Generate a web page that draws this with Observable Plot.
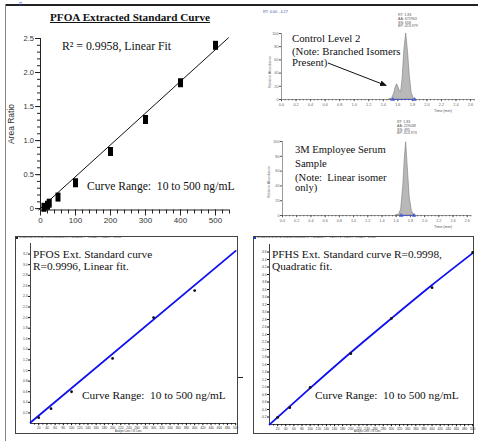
<!DOCTYPE html>
<html><head><meta charset="utf-8">
<script src="https://cdn.jsdelivr.net/npm/d3@7"></script>
<script src="https://cdn.jsdelivr.net/npm/@observablehq/plot@0.6"></script>
<style>
body{margin:0;background:#fff;}
#root{position:relative;width:478px;height:441px;overflow:hidden;background:#fff;}
.t{position:absolute;white-space:pre;font-family:"Liberation Serif","Times New Roman",serif;color:#111;line-height:1;}
.s{position:absolute;white-space:pre;font-family:"Liberation Sans",Arial,sans-serif;line-height:1;}
#root svg{position:absolute;overflow:visible;}
</style></head><body><div id="root"></div>
<script>
// ---------- data ----------
// PFOA extracted standard curve
const pfoaConc  = [10, 20, 25, 50, 100, 200, 300, 400, 500];
const pfoaRatio = [0.02, 0.05, 0.08, 0.17, 0.38, 0.84, 1.31, 1.85, 2.40];
const pfoaFitConc  = [-5, 537];
const pfoaFitRatio = [-0.02, 2.51];
const pfoaYTicks = [0, 0.5, 1.0, 1.5, 2.0, 2.5];
const pfoaXTicks = [0, 100, 200, 300, 400, 500];

// Chromatogram 1: Control Level 2 (branched + linear)
const chrom1Time = [1.48, 1.52, 1.55, 1.57, 1.59, 1.61, 1.63, 1.645, 1.665, 1.69, 1.715, 1.74, 1.765, 1.79, 1.82, 1.85];
const chrom1Abund = [0, 1, 9, 18, 23, 18, 12, 11, 30, 75, 100, 72, 35, 10, 1, 0];
const chrom1Marks = [1.53, 1.83];
// Chromatogram 2: 3M employee serum (linear only)
const chrom2Time = [1.60, 1.64, 1.67, 1.70, 1.72, 1.74, 1.765, 1.79, 1.82, 1.85, 1.88];
const chrom2Abund = [0, 1, 8, 40, 75, 99, 62, 25, 6, 1, 0];
const chrom2Marks = [1.67, 1.85];
const chromYTicks = [0, 20, 40, 60, 80, 100];
const chromXTicks = [0, 0.2, 0.4, 0.6, 0.8, 1.0, 1.2, 1.4, 1.6, 1.8, 2.0, 2.2, 2.4, 2.6];

// PFOS ext. standard curve (linear)
const pfosConc  = [20, 50, 100, 200, 300, 400];
const pfosRatio = [0.11, 0.28, 0.60, 1.23, 2.00, 2.51];
const pfosFitConc  = [0, 500];
const pfosFitRatio = [0.02, 3.26];
// PFHS ext. standard curve (quadratic)
const pfhsConc  = [20, 50, 100, 200, 300, 400, 500];
const pfhsRatio = [0.19, 0.45, 0.99, 1.89, 2.83, 3.65, 4.59];
const pfhsFitConc  = [0, 100, 200, 300, 400, 500];
const pfhsFitRatio = [0, 0.97, 1.92, 2.83, 3.72, 4.57];
const concTicks = [20,40,60,80,100,120,140,160,180,200,220,240,260,280,300,320,340,360,380,400,420,440,460,480,500];
const concMinor = [10,30,50,70,90,110,130,150,170,190,210,230,250,270,290,310,330,350,370,390,410,430,450,470,490];
const pfosYTicks = [0.2,0.4,0.6,0.8,1.0,1.2,1.4,1.6,1.8,2.0,2.2,2.4,2.6,2.8,3.0,3.2];
const pfhsYTicks = [0.2,0.4,0.6,0.8,1.0,1.2,1.4,1.6,1.8,2.0,2.2,2.4,2.6,2.8,3.0,3.2,3.4,3.6,3.8,4.0,4.2,4.4,4.6];

// ---------- helpers ----------
const root = document.getElementById("root");
function place(el, left, top){ el.style.position="absolute"; el.style.left=left+"px"; el.style.top=top+"px"; root.appendChild(el); return el; }
function txt(str, left, top, size, cls="t", extra={}){ const d=document.createElement("div"); d.className=cls; d.textContent=str; d.style.fontSize=size+"px"; Object.assign(d.style, extra); return place(d,left,top); }
function div(left, top, w, h, style){ const d=document.createElement("div"); Object.assign(d.style,{width:w+"px",height:h+"px"},style); return place(d,left,top); }
const zip = (xs, ys, kx, ky) => xs.map((v,i)=>({[kx]:v,[ky]:ys[i]}));
const fmt1 = d => d === 0 ? "0" : d.toFixed(1);

// ---------- outer frame ----------
div(5, 4, 473, 1.6, {background:"#222"});
div(4.5, 4, 1.5, 437, {background:"#888"});
txt("g", 19, 0, 6, "t", {color:"#2a3fd0"});

// ---------- PFOA plot ----------
const rectSym = {draw(ctx){ ctx.rect(-2.5,-4.5,5,9); }};
const pfoa = zip(pfoaConc, pfoaRatio, "conc", "ratio");
const pfoaFit = zip(pfoaFitConc, pfoaFitRatio, "conc", "ratio");
const p1 = Plot.plot({
  width:240, height:232, marginLeft:40, marginRight:11, marginTop:38, marginBottom:22.5,
  x:{domain:[0,540]}, y:{domain:[-0.02,2.5]},
  style:{background:"transparent", fontFamily:"Liberation Sans, Arial, sans-serif", color:"#333"},
  marks:[
    Plot.ruleX([0], {stroke:"#222", strokeWidth:1}),
    Plot.ruleY([-0.02], {stroke:"#222", strokeWidth:1}),
    Plot.axisY({ticks:d3.range(0,2.51,0.1), tickSize:3, tickFormat:()=>"", label:null, stroke:"#222"}),
    Plot.axisY({ticks:pfoaYTicks, tickSize:5, tickPadding:1.5, tickFormat:fmt1, fontSize:7.5, label:null, stroke:"#222"}),
    Plot.axisX({ticks:d3.range(0,541,20), tickSize:4, tickFormat:()=>"", label:null, stroke:"#222"}),
    Plot.axisX({ticks:pfoaXTicks, tickSize:6, tickPadding:1, fontSize:8, label:null, stroke:"#222"}),
    Plot.line(pfoaFit, {x:"conc", y:"ratio", stroke:"#111", strokeWidth:1}),
    Plot.dot(pfoa, {x:"conc", y:"ratio", symbol:rectSym, fill:"#000", stroke:"none"})
  ]
});
place(p1, 0, 0);
txt("PFOA Extracted Standard Curve", 50, 12, 11.2, "t", {fontWeight:"bold", textDecoration:"underline"});
txt("R\u00B2 = 0.9958, Linear Fit", 62, 40.5, 11.8);
txt("Curve Range:  10 to 500 ng/mL", 87, 180.5, 11.6);
txt("Area Ratio", 10.5, 124, 8.5, "s", {color:"#333", transform:"translate(-50%,-50%) rotate(-90deg)"});

// ---------- chromatograms ----------
function chrom(times, abund, marks, opts){
  const data = zip(times, abund, "t", "a");
  const bmarks = marks.map(t=>({t}));
  return Plot.plot({
    width:238, height:120, marginLeft:opts.ml, marginRight:opts.mr, marginTop:opts.mt, marginBottom:opts.mb,
    x:{domain:[0,2.66]}, y:{domain:[0,100]},
    style:{background:"transparent", fontFamily:"Liberation Sans, Arial, sans-serif", color:"#666"},
    marks:[
      Plot.areaY(data, {x:"t", y:"a", fill:"#b8b8b8", stroke:"#7a7a7a", strokeWidth:0.6}),
      Plot.ruleX([0], {stroke:"#555", strokeWidth:0.6}),
      Plot.ruleY([0], {stroke:"#555", strokeWidth:0.6}),
      Plot.line(bmarks, {x:"t", y:0, stroke:"#4a5cf0", strokeWidth:1}),
      Plot.dot(bmarks, {x:"t", y:0, symbol:"triangle", r:1.6, fill:"#4a5cf0", stroke:"none"}),
      Plot.axisY({ticks:chromYTicks, tickSize:2, tickPadding:1, fontSize:3.8, label:null, stroke:"#555"}),
      Plot.axisX({ticks:d3.range(0,2.661,0.05), tickSize:1.3, tickFormat:()=>"", label:null, stroke:"#555"}),
      Plot.axisX({ticks:chromXTicks, tickSize:2.2, tickPadding:1.5, fontSize:3.8, tickFormat:d=>d.toFixed(1), label:null, stroke:"#555"})
    ]
  });
}
place(chrom(chrom1Time, chrom1Abund, chrom1Marks, {ml:41, mr:3.6, mt:33, mb:21}), 240, 0);
place(chrom(chrom2Time, chrom2Abund, chrom2Marks, {ml:42, mr:7, mt:25, mb:21}), 240, 116);

txt("RT: 0.00 - 4.27", 263, 11, 3.8, "s", {color:"#4455aa"});
["RT: 1.83","AA: 672963","SN: 658","BP: 413.979"].forEach((s,i)=>txt(s, 398, 14+i*3.8, 3.6, "s", {color:"#555"}));
["RT: 1.83","AA: 229038","SN: 495","BP: 413.973"].forEach((s,i)=>txt(s, 397, 121+i*3.8, 3.6, "s", {color:"#555"}));
txt("Time (min)", 434, 110, 3.8, "s", {color:"#555"});
txt("Time (min)", 434, 226, 3.8, "s", {color:"#555"});
txt("Relative Abundance", 271, 72, 3.6, "s", {color:"#666", transform:"translate(-50%,-50%) rotate(-90deg)"});
txt("Relative Abundance", 270, 182, 3.6, "s", {color:"#666", transform:"translate(-50%,-50%) rotate(-90deg)"});

txt("Control Level 2", 292, 32.5, 10.8);
txt("(Note: Branched Isomers", 292, 45.8, 10.8);
txt("Present)", 292, 57.3, 10.8);
txt("3M Employee Serum", 295, 145.2, 10.6);
txt("Sample", 295, 158.5, 10.6);
txt("(Note:  Linear isomer", 295, 172.5, 10.6);
txt("only)", 295, 183.2, 10.6);

// arrow
const ns = "http://www.w3.org/2000/svg";
const asvg = document.createElementNS(ns, "svg");
asvg.setAttribute("width", 478); asvg.setAttribute("height", 441);
asvg.style.left = "0px"; asvg.style.top = "0px"; asvg.style.pointerEvents = "none";
asvg.innerHTML = `<defs><marker id="ah" markerWidth="7" markerHeight="6" refX="6" refY="3" orient="auto" markerUnits="userSpaceOnUse"><path d="M0,0 L7,3 L0,6 Z" fill="#111"/></marker></defs>
<line x1="328" y1="63" x2="386" y2="85.5" stroke="#111" stroke-width="1" marker-end="url(#ah)"/>`;
root.appendChild(asvg);

// ---------- bottom calibration panels ----------
function calib(conc, ratio, fitC, fitR, yTicks, ydom, opts){
  const pts = zip(conc, ratio, "c", "r");
  const fit = zip(fitC, fitR, "c", "r");
  return Plot.plot({
    width:opts.w, height:198, marginLeft:opts.ml, marginRight:opts.mr, marginTop:opts.mt, marginBottom:opts.mb,
    x:{domain:[0,502]}, y:{domain:ydom},
    style:{background:"transparent", fontFamily:"Liberation Sans, Arial, sans-serif", color:"#333"},
    marks:[
      Plot.ruleX([0], {stroke:"#111", strokeWidth:0.8}),
      Plot.ruleY([0], {stroke:"#111", strokeWidth:0.8}),
      Plot.axisY({ticks:yTicks, tickSize:2, tickPadding:1, fontSize:3.2, tickFormat:d=>d.toFixed(1), label:null, stroke:"#111"}),
      Plot.axisX({ticks:concMinor, tickSize:1.5, tickFormat:()=>"", label:null, stroke:"#111"}),
      Plot.axisX({ticks:concTicks, tickSize:2.2, tickPadding:0.8, fontSize:3.2, label:null, stroke:"#111"}),
      Plot.line(fit, {x:"c", y:"r", stroke:"#1010f0", strokeWidth:1.8, curve:"monotone-x"}),
      Plot.dot(pts, {x:"c", y:"r", r:1.4, fill:"#111", stroke:"none"})
    ]
  });
}
div(15, 236, 223, 198, {border:"1px solid #444", boxSizing:"border-box"});
div(253, 236, 221, 198, {border:"1px solid #444", boxSizing:"border-box"});
place(calib(pfosConc, pfosRatio, pfosFitConc, pfosFitRatio, pfosYTicks, [0,3.4], {w:223, ml:15, mr:2, mt:7, mb:11}), 15, 236);
place(calib(pfhsConc, pfhsRatio, pfhsFitConc, pfhsFitRatio, pfhsYTicks, [0,4.8], {w:221, ml:16, mr:1, mt:8, mb:10}), 253, 236);

div(16, 237, 2, 2, {background:"#223"});
txt("PFOS/PFOS-IS (PFOS) Linear Regression (1 / X weighting): y = 0.00652 x + 0.0278 (r = 0.9996)", 19, 237.2, 2.4, "s", {color:"#222"});
div(254, 237, 2.2, 2.2, {background:"#2233cc"});
txt("PFHS/PFHS-IS (PFHS) Quadratic Regression (1 / X weighting): y = -1.2e-6 x^2 + 0.0097 x + 0.0021 (r = 0.9998)", 257, 237.2, 2.4, "s", {color:"#222"});
txt("Analyte Conc / IS Conc", 115, 430.5, 2.6, "s", {color:"#333"});
txt("Analyte Conc / IS Conc", 354, 430.5, 2.6, "s", {color:"#333"});

txt("PFOS Ext. Standard curve", 33, 248.8, 11.3);
txt("R=0.9996, Linear fit.", 33, 260.8, 11.3);
txt("Curve Range:  10 to 500 ng/mL", 82, 389.8, 11.3);
txt("PFHS Ext. Standard curve R=0.9998,", 272, 248.8, 11.3);
txt("Quadratic fit.", 272, 260.8, 11.3);
txt("Curve Range:  10 to 500 ng/mL", 315, 389.8, 11.3);
div(238, 377, 5, 1, {background:"#222"});
</script></body></html>
